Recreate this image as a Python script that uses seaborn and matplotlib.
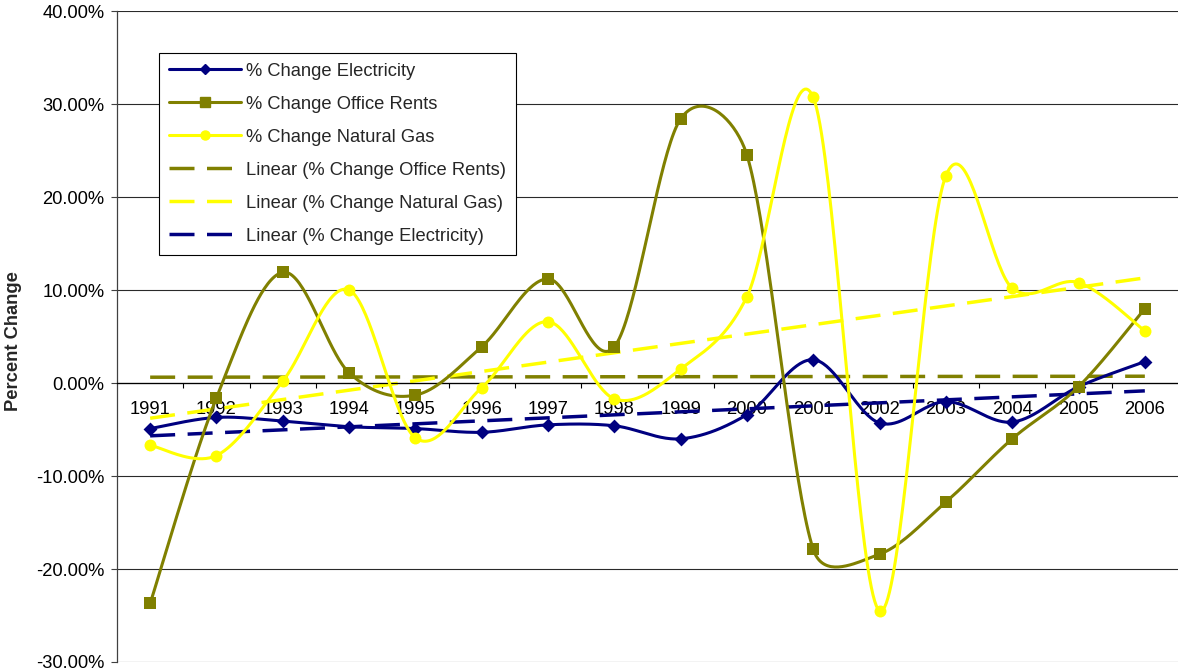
import numpy as np
import matplotlib
matplotlib.use("Agg")
import matplotlib.pyplot as plt
from matplotlib.lines import Line2D
from matplotlib.ticker import FuncFormatter
import seaborn as sns

# Annual percent changes, 1991-2006
years = list(range(1991, 2007))
electricity = [-4.9, -3.7, -4.1, -4.7, -4.9, -5.3, -4.5, -4.6, -6.0, -3.4, 2.5, -4.3, -2.0, -4.2, -0.4, 2.3]
office_rents = [-23.7, -1.6, 11.9, 1.1, -1.3, 3.9, 11.2, 3.9, 28.4, 24.5, -17.9, -18.4, -12.8, -6.0, -0.4, 8.0]
natural_gas = [-6.7, -7.8, 0.2, 10.0, -5.9, -0.5, 6.6, -1.7, 1.5, 9.3, 30.7, -24.5, 22.3, 10.2, 10.8, 5.6]

NAVY = "#000080"
OLIVE = "#808000"
YELLOW = "#FFFF00"

sns.set_style("white")
plt.rcParams["font.family"] = ["Liberation Sans", "DejaVu Sans"]
FS = 13.2

W, H = 1178, 672
fig = plt.figure(figsize=(W / 100, H / 100), dpi=100)
ax = fig.add_axes([117 / W, 1 - 662 / H, (W - 117) / W, (662 - 11) / H])

SX, SY = 66.3, 9.3  # screen pixels per category / per percent


def smooth_path(vals, steps=40):
    """Bezier smoothing through the points, computed in screen proportions.

    Control arms follow the neighbour-to-neighbour direction with length
    |next - prev| / 6, limited to half of the segment they sit on.
    """
    pts = np.column_stack([np.arange(len(vals)) * SX, np.asarray(vals, float) * SY])
    n = len(pts)
    t = np.linspace(0, 1, steps + 1)[1:, None]

    def arm(prev, cur, nxt, seg_len):
        d = nxt - prev
        length = np.linalg.norm(d)
        if length == 0:
            return np.zeros(2)
        a = min(length / 6.0, seg_len / 2.0)
        return d / length * a

    out = [pts[:1]]
    for i in range(n - 1):
        p0, p1, p2, p3 = pts[max(i - 1, 0)], pts[i], pts[i + 1], pts[min(i + 2, n - 1)]
        d12 = np.linalg.norm(p2 - p1)
        c1 = p1 + arm(p0, p1, p2, d12)
        c2 = p2 - arm(p1, p2, p3, d12)
        seg = (1 - t) ** 3 * p1 + 3 * (1 - t) ** 2 * t * c1 + 3 * (1 - t) * t ** 2 * c2 + t ** 3 * p2
        out.append(seg)
    path = np.vstack(out)
    return path[:, 0] / SX, path[:, 1] / SY


idx = np.arange(len(years))
dash = (7.2, 3.6)

# linear trend lines
for vals, col in [(office_rents, OLIVE), (natural_gas, YELLOW), (electricity, NAVY)]:
    sns.regplot(x=idx, y=np.asarray(vals), scatter=False, ci=None, truncate=True, ax=ax,
                color=col, line_kws=dict(lw=2.5, dashes=dash, zorder=2))

# smoothed series with markers
series = [
    (electricity, NAVY, "D", 50),
    (office_rents, OLIVE, "s", 81),
    (natural_gas, YELLOW, "o", 74),
]
for k, (vals, col, mk, s) in enumerate(series):
    xs, ys = smooth_path(vals)
    sns.lineplot(x=xs, y=ys, sort=False, estimator=None, color=col, lw=2.2, ax=ax,
                 zorder=3 + k * 0.1)
    sns.scatterplot(x=idx, y=vals, marker=mk, s=s, color=col, edgecolor=col, linewidth=0,
                    ax=ax, zorder=3.05 + k * 0.1, legend=False)

ax.set_xlim(-0.5, 15.5)
ax.set_ylim(-30, 40)
ax.set_xlabel("")
ax.set_ylabel("")

# y axis
ax.set_yticks(np.arange(-30, 41, 10))
ax.yaxis.set_major_formatter(FuncFormatter(lambda v, p: f"{v:.2f}%"))
ax.tick_params(axis="y", left=True, length=4, width=0.8, pad=5, direction="out",
               color="#404040", labelsize=FS, labelcolor="black")
ax.yaxis.grid(True, color="#2a2a2a", lw=0.8)
ax.set_axisbelow(True)

# x axis sits on the zero line
ax.spines["top"].set_visible(False)
ax.spines["right"].set_visible(False)
ax.spines["left"].set_color("#404040")
ax.spines["left"].set_linewidth(0.9)
ax.spines["bottom"].set_position(("data", 0))
ax.spines["bottom"].set_color("black")
ax.spines["bottom"].set_linewidth(0.9)
ax.set_xticks(idx)
ax.set_xticklabels([str(y) for y in years])
ax.set_xticks(np.arange(0.5, 15, 1), minor=True)
ax.tick_params(axis="x", which="major", bottom=True, length=0, pad=13, labelsize=FS,
               labelcolor="black")
ax.tick_params(axis="x", which="minor", bottom=True, length=3.6, width=0.8, direction="out",
               color="black")

fig.text(14 / W, 1 - 341 / H, "Percent Change", rotation=90, fontweight="bold",
         ha="center", va="center", fontsize=FS)

handles = [
    Line2D([], [], color=NAVY, lw=2.2, marker="D", ms=5.5),
    Line2D([], [], color=OLIVE, lw=2.2, marker="s", ms=6.5),
    Line2D([], [], color=YELLOW, lw=2.2, marker="o", ms=6.5),
    Line2D([], [], color=OLIVE, lw=2.5, dashes=dash),
    Line2D([], [], color=YELLOW, lw=2.5, dashes=dash),
    Line2D([], [], color=NAVY, lw=2.5, dashes=dash),
]
labels = [
    "% Change Electricity",
    "% Change Office Rents",
    "% Change Natural Gas",
    "Linear (% Change Office Rents)",
    "Linear (% Change Natural Gas)",
    "Linear (% Change Electricity)",
]
leg = ax.legend(handles, labels, loc="upper left", bbox_to_anchor=(159 / W, 1 - 52.7 / H),
                bbox_transform=fig.transFigure, frameon=True, fancybox=False,
                edgecolor="black", framealpha=1, borderaxespad=0, borderpad=0.55,
                handlelength=3.9, handletextpad=0.3, labelspacing=0.87, numpoints=1,
                fontsize=FS)
leg.get_frame().set_linewidth(0.8)
leg.set_zorder(10)

fig.savefig("out.png", dpi=100)
